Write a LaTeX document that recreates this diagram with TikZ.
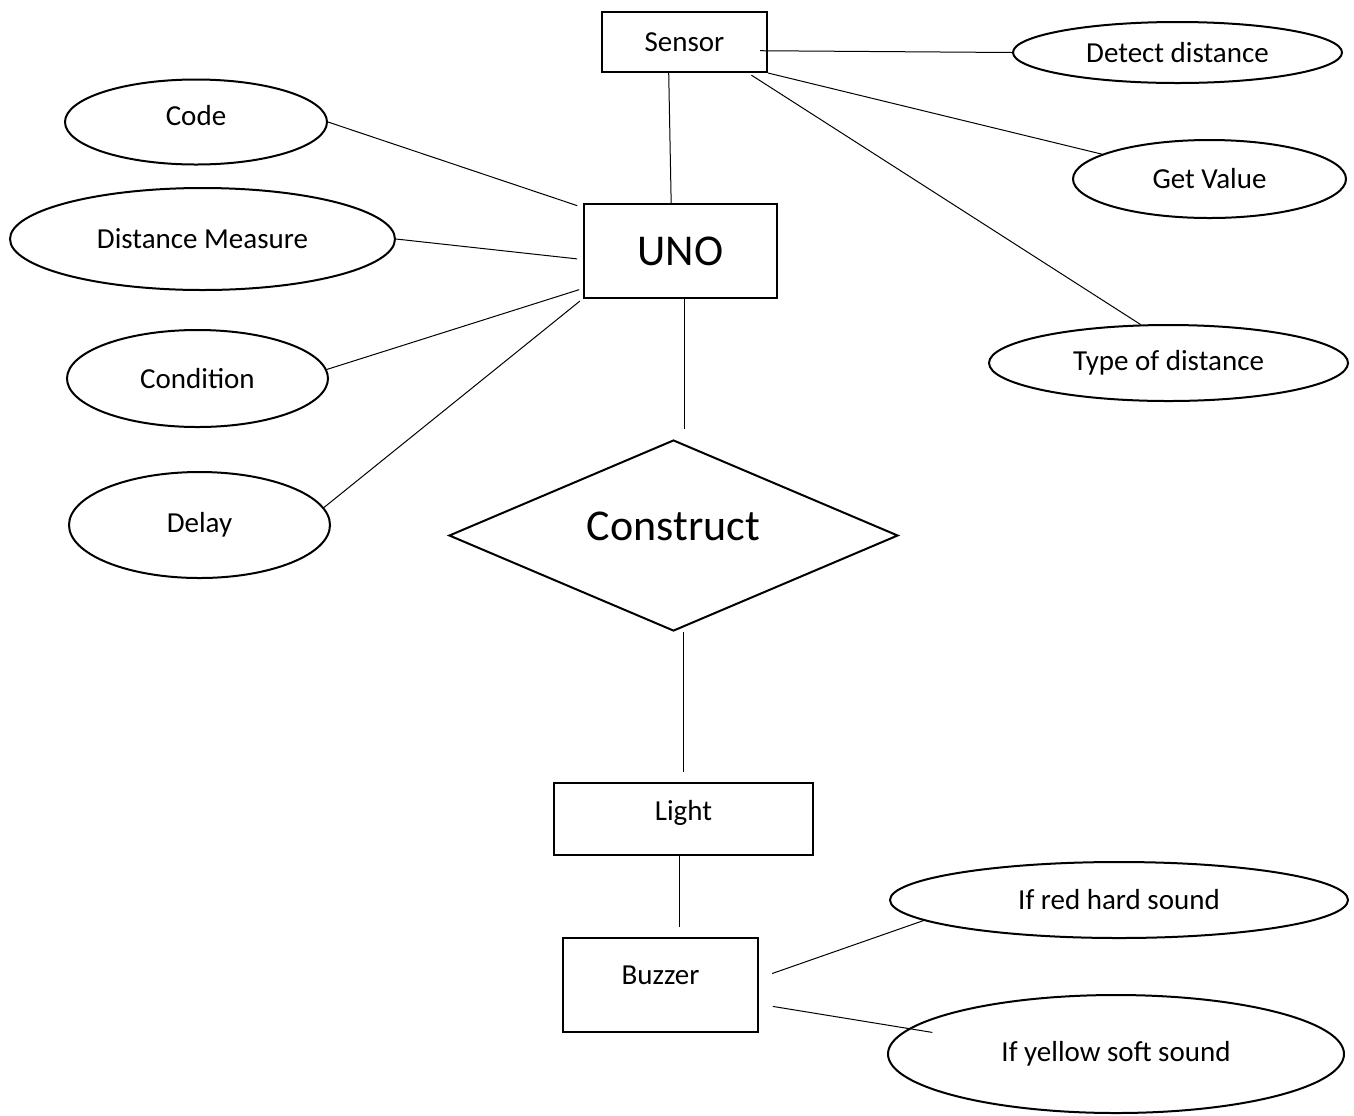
\documentclass[tikz,border=0pt]{standalone}
\usepackage{fontspec}
\setmainfont{Carlito}
\usepackage{tikz}
\usetikzlibrary{shapes.geometric}

\tikzset{
  entity/.style={draw, line width=1pt, inner sep=0pt, font=\fontsize{14.5}{17}\selectfont},
  attr/.style={draw, ellipse, line width=1pt, inner sep=0pt, font=\fontsize{14.5}{17}\selectfont},
  rel/.style={draw, diamond, line width=1pt, inner sep=0pt, font=\fontsize{22}{26}\selectfont},
  link/.style={line width=0.5pt}
}

\begin{document}
\begin{tikzpicture}[x=0.5pt, y=-0.5pt]
  \useasboundingbox (0,0) rectangle (1354,1115);

  % Entities
  \node[entity, minimum width=82.5pt, minimum height=30pt] (sensor) at (684.5,42) {Sensor};
  \node[entity, minimum width=96.5pt, minimum height=47pt, font=\fontsize{22}{26}\selectfont]
       (uno) at (680.5,251) {UNO};
  \node[entity, minimum width=129.5pt, minimum height=36pt, text depth=9pt] (light) at (683.5,819) {Light};
  \node[entity, minimum width=97.5pt, minimum height=47pt, text depth=10pt] (buzzer) at (660.5,985) {Buzzer};

  % Relationship
  \node[rel, aspect=2.35, minimum width=224.5pt, minimum height=95.5pt, text depth=9.5pt]
       (construct) at (673.5,535.5) {Construct};

  % Attributes of UNO
  \node[attr, minimum width=131pt, minimum height=42.5pt, text depth=7pt] (code) at (196,122) {Code};
  \node[attr, minimum width=192.5pt, minimum height=51pt] (dist) at (202.5,239) {Distance Measure};
  \node[attr, minimum width=130.5pt, minimum height=48.5pt] (cond) at (197.5,378.5) {Condition};
  \node[attr, minimum width=130.5pt, minimum height=53pt] (delay) at (199.5,525) {Delay};

  % Attributes of Sensor
  \node[attr, minimum width=164.5pt, minimum height=30.5pt] (detect) at (1177.5,52.5) {Detect distance};
  \node[attr, minimum width=136.5pt, minimum height=39pt] (getval) at (1209.5,179) {Get Value};
  \node[attr, minimum width=179.5pt, minimum height=38pt] (dtype) at (1168.5,363) {Type of distance};

  % Attributes of Buzzer
  \node[attr, minimum width=229pt, minimum height=38pt] (hard) at (1119,900) {If red hard sound};
  \node[attr, minimum width=228pt, minimum height=59pt] (soft) at (1116,1054) {If yellow soft sound};

  % Links
  \draw[link, shorten >=3pt] (code.east) -- (uno.156);
  \draw[link, shorten >=3pt] (dist.east) -- (uno.185);
  \draw[link, shorten >=2pt] (cond.4) -- (uno.201);
  \draw[link, shorten >=2pt] (delay.8) -- (uno.206);

  \draw[link] (sensor.243) -- (uno.101);
  \draw[link, shorten <=-4pt] (sensor.-6) -- (detect.west);
  \draw[link] (sensor.south east) -- (getval.167);
  \draw[link, shorten <=2pt] (sensor.-26) -- (dtype.126);

  \draw[link, shorten >=5pt] (uno.-85) -- (uno.-85 |- construct.north);
  \draw[link, shorten >=5pt] (light.north |- construct.south) -- (light.north);
  \draw[link, shorten >=5pt] (light.264) -- (light.264 |- buzzer.north);

  \draw[link, shorten <=7pt] (buzzer.4) -- (hard.186);
  \draw[link, shorten <=7pt, shorten >=-12pt] (buzzer.-11) -- (soft.173);
\end{tikzpicture}
\end{document}
